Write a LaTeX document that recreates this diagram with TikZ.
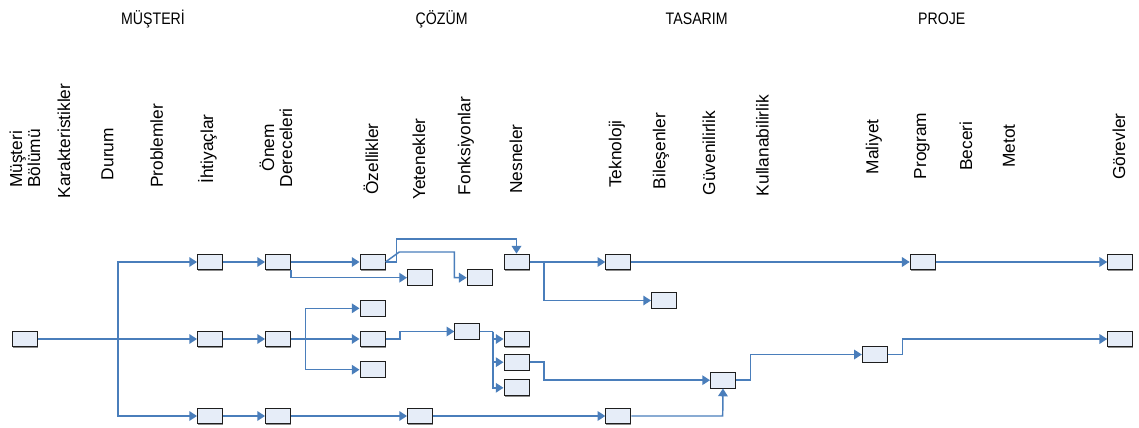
\documentclass[tikz,border=0pt]{standalone}
\usepackage{fontspec}
\setmainfont{Liberation Sans}
\usetikzlibrary{arrows.meta,shadows}
\definecolor{flow}{HTML}{4A7EBB}
\definecolor{boxfill}{HTML}{E6EDF8}
\definecolor{boxline}{HTML}{1E1E1E}
\tikzset{
  cell/.style={draw=boxline, fill=boxfill, line width=0.75pt,
    minimum width=18.75pt, minimum height=11.75pt, inner sep=0pt,
    drop shadow={shadow xshift=0.5pt, shadow yshift=-0.7pt, fill=black!45, opacity=1}},
  link/.style={draw=flow, line width=1.1pt},
  arr/.style={link, -{Triangle[length=5.8pt,width=7.2pt]}},
  colhead/.style={font=\fontsize{13}{13.5}\selectfont, rotate=90, inner sep=0pt},
  phase/.style={font=\fontsize{12.5}{14}\selectfont, inner sep=0pt, anchor=base},
}
\newcommand{\narrow}[1]{\scalebox{0.85}[1]{#1}}
\begin{document}
\begin{tikzpicture}[x=0.75pt,y=-0.75pt]
\useasboundingbox (0,0) rectangle (1139,428);

% phase titles
\node[phase] (hm) at (153,25)   {\narrow{MÜŞTERİ}};
\node[phase] (hc) at (441.7,25) {\narrow{ÇÖZÜM}};
\node[phase] (ht) at (696.7,25) {\narrow{TASARIM}};
\node[phase] (hp) at (941.7,25) {\narrow{PROJE}};

% column titles
\node[colhead, align=left]   (c01) at (25,158.5)   {Müşteri\\Bölümü};
\node[colhead]               (c02) at (64,141)     {Karakteristikler};
\node[colhead]               (c03) at (107.5,154)  {Durum};
\node[colhead]               (c04) at (156.7,146)  {Problemler};
\node[colhead]               (c05) at (207.5,149)  {İhtiyaçlar};
\node[colhead, align=center] (c06) at (276,147.7)  {Önem\\Dereceleri};
\node[colhead]               (c07) at (371,159)    {Özellikler};
\node[colhead]               (c08) at (419,159)    {Yetenekler};
\node[colhead]               (c09) at (466,146)    {Fonksiyonlar};
\node[colhead]               (c10) at (516,159)    {Nesneler};
\node[colhead]               (c11) at (617,154)    {Teknoloji};
\node[colhead]               (c12) at (661,151)    {Bileşenler};
\node[colhead]               (c13) at (709,153)    {Güvenilirlik};
\node[colhead]               (c14) at (762.5,145.5){Kullanabilirlik};
\node[colhead]               (c15) at (874,146.7)  {Maliyet};
\node[colhead]               (c16) at (922,146)    {Program};
\node[colhead]               (c17) at (966,146)    {Beceri};
\node[colhead]               (c18) at (1009,146)   {Metot};
\node[colhead]               (c19) at (1119,146.7) {Görevler};

% boxes
\node[cell] (mb)  at (24.5,339)   {};
\node[cell] (ih1) at (210,262)    {};
\node[cell] (ih2) at (210,339)    {};
\node[cell] (ih3) at (210,416)    {};
\node[cell] (on1) at (278,262)    {};
\node[cell] (on2) at (278,339)    {};
\node[cell] (on3) at (278,416)    {};
\node[cell] (oz1) at (372.5,262)  {};
\node[cell] (oz2) at (372.5,308.3){};
\node[cell] (oz3) at (372.5,339)  {};
\node[cell] (oz4) at (372.5,369.7){};
\node[cell] (ye1) at (420,277.7)  {};
\node[cell] (ye2) at (420,416)    {};
\node[cell] (fo1) at (479.7,277.7){};
\node[cell] (fo2) at (467.3,331.5){};
\node[cell] (ne1) at (516.5,262)  {};
\node[cell] (ne2) at (516.5,339)  {};
\node[cell] (ne3) at (516.5,362.2){};
\node[cell] (ne4) at (516.5,387.8){};
\node[cell] (te1) at (618.3,262)  {};
\node[cell] (te2) at (618.3,416)  {};
\node[cell] (bi1) at (664,300.5)  {};
\node[cell] (ku1) at (723,380.2)  {};
\node[cell] (ma1) at (874.8,354.5){};
\node[cell] (pr1) at (922.7,262)  {};
\node[cell] (go1) at (1120.2,262) {};
\node[cell] (go2) at (1120.2,339) {};

% junction points
\coordinate (s0) at (118,339);
\coordinate (s1) at (305.3,339);
\coordinate (s2) at (493,331.5);
\coordinate (s3) at (544,262);
\coordinate (s4) at (544,362.2);
\coordinate (s5) at (722.7,416);
\coordinate (s6) at (750.3,380.2);
\coordinate (s7) at (902.3,354.5);
\coordinate (s8) at (400,339);
\coordinate (k1) at (396.7,239);
\coordinate (k2) at (399.3,252);
\coordinate (k3) at (454.3,252);

% customer branch
\draw[link] (mb.east) -- (s0);
\draw[arr] (s0) |- (ih1.west);
\draw[arr] (s0) -- (ih2.west);
\draw[arr] (s0) |- (ih3.west);

% top row
\draw[arr] (ih1) -- (on1);
\draw[arr] (on1) -- (oz1);
\draw[arr] (on1.south east) |- (ye1.west);
\draw[arr] (oz1.east) -- (oz1.east -| k1) -- (k1) -| (ne1.north);
\draw[arr] (oz1.east) -- (k2) -- (k3) |- (fo1.west);
\draw[arr] (ne1) -- (te1);
\draw[arr] (s3) |- (bi1.west);
\draw[arr] (te1) -- (pr1);
\draw[arr] (pr1) -- (go1);

% middle row
\draw[arr] (ih2) -- (on2);
\draw[link] (on2.east) -- (s1);
\draw[arr] (s1) |- (oz2.west);
\draw[arr] (s1) -- (oz3.west);
\draw[arr] (s1) |- (oz4.west);
\draw[arr] (oz3.east) -- (s8) |- (fo2.west);
\draw[link] (fo2.east) -- (s2);
\draw[arr] (s2) |- (ne2.west);
\draw[arr] (s2) |- (ne3.west);
\draw[arr] (s2) |- (ne4.west);
\draw[arr] (ne3.east) -- (s4) |- (ku1.west);
\draw[arr] (ku1.east) -- (s6) |- (ma1.west);
\draw[arr] (ma1.east) -- (s7) |- (go2.west);

% bottom row
\draw[arr] (ih3) -- (on3);
\draw[arr] (on3) -- (ye2);
\draw[arr] (ye2) -- (te2);
\draw[arr] (te2.east) -- (s5) -- (ku1.south);
\end{tikzpicture}
\end{document}
